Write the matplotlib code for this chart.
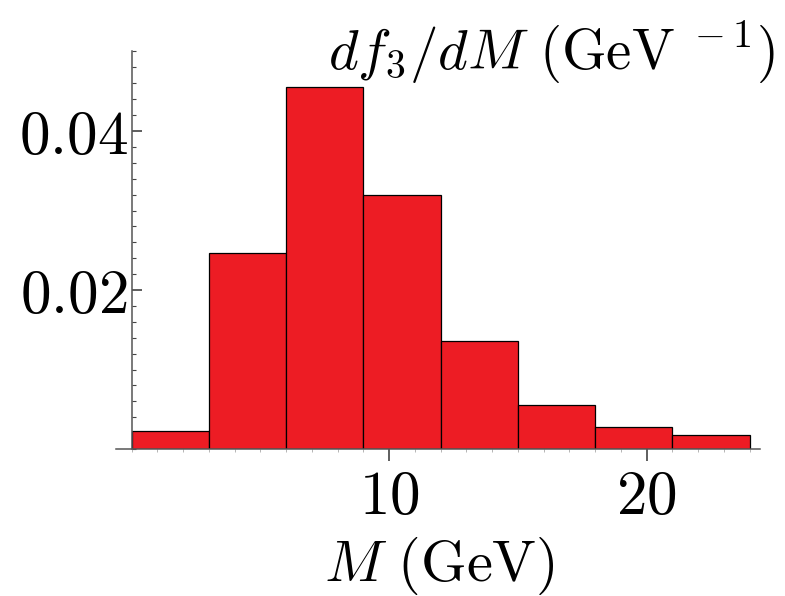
import matplotlib
matplotlib.use('Agg')
import matplotlib.pyplot as plt
from matplotlib.ticker import MultipleLocator, FixedLocator
import numpy as np

plt.rcParams['mathtext.fontset'] = 'cm'

# histogram bins (GeV) and heights (GeV^-1)
bin_edges = [0, 3, 6, 9, 12, 15, 18, 21, 24]
heights = [0.0023, 0.0246, 0.0455, 0.0319, 0.0136, 0.0055, 0.0028, 0.0018]
xticks = [10, 20]
xtick_labels = ['10', '20']
yticks = [0.02, 0.04]
ytick_labels = ['0.02', '0.04']

fig = plt.figure(figsize=(7.85, 5.96), dpi=100)
ax = fig.add_axes([0.148, 0.2466, 0.82, 0.667])

lefts = np.array(bin_edges[:-1])
widths = np.diff(bin_edges)
ax.bar(lefts, heights, width=widths, align='edge', color='#ed1c24',
       edgecolor='black', linewidth=0.9, zorder=2)

ax.set_xlim(-0.6, 24.4)
ax.set_ylim(0, 0.05)

axis_col = '#555555'
for s in ['top', 'right']:
    ax.spines[s].set_visible(False)
ax.spines['left'].set_position(('data', 0))
ax.spines['left'].set_color(axis_col)
ax.spines['bottom'].set_color(axis_col)
ax.spines['left'].set_linewidth(1.1)
ax.spines['bottom'].set_linewidth(1.1)
ax.spines['left'].set_zorder(3)

ax.xaxis.set_major_locator(FixedLocator(xticks))
ax.set_xticklabels(['$%s$' % t for t in xtick_labels])
ax.xaxis.set_minor_locator(MultipleLocator(1))
ax.yaxis.set_major_locator(FixedLocator(yticks))
ax.set_yticklabels(['$%s$' % t for t in ytick_labels])
ax.yaxis.set_minor_locator(MultipleLocator(0.002))

ax.tick_params(axis='x', which='major', direction='out', length=8.5,
               width=1.1, color='#333333', labelsize=44, pad=5)
ax.tick_params(axis='x', which='minor', direction='out', length=2,
               width=0.6, color='#aaaaaa')
ax.tick_params(axis='y', which='major', direction='in', length=7,
               width=1.1, color='#333333', labelsize=44, pad=3)
ax.tick_params(axis='y', which='minor', direction='in', length=3,
               width=0.8, color='#444444')

fig.text(0.987, 0.913, r'$df_3/dM\ (\mathrm{GeV}^{\ -1})$', ha='right',
         va='center', fontsize=41)
fig.text(0.56, 0.05, r'$M\ (\mathrm{GeV})$', ha='center', va='center',
         fontsize=42)

fig.savefig('out.png', dpi=100)
